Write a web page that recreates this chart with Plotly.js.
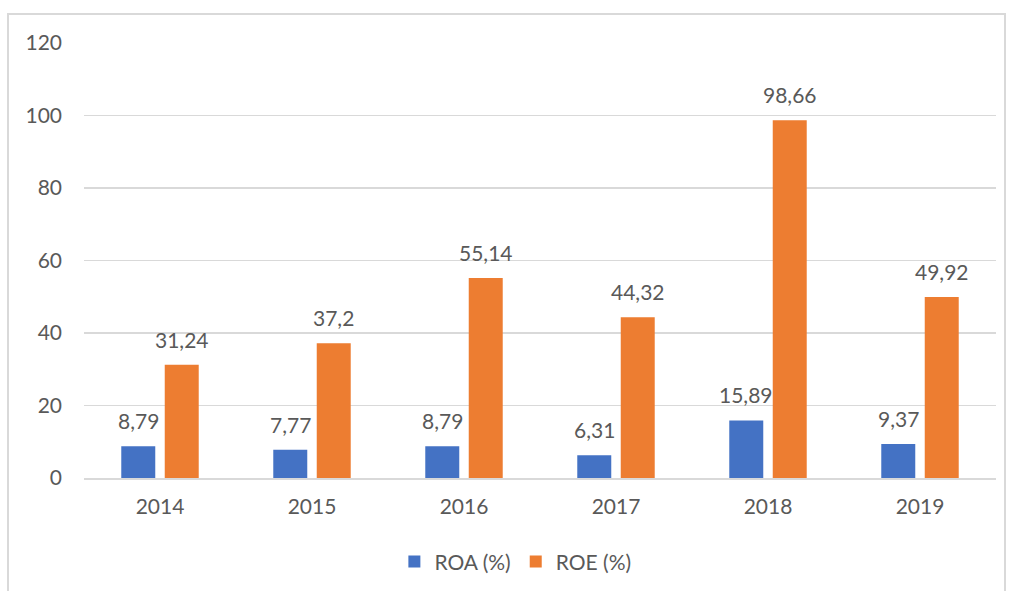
<!DOCTYPE html>
<html><head><meta charset="utf-8">
<script src="https://cdn.plot.ly/plotly-3.0.1.min.js"></script>
<style>
html,body{margin:0;padding:0;background:#fff;width:1012px;height:591px;overflow:hidden;}
#frame{position:absolute;left:7px;top:13px;width:999px;height:600px;border:2px solid #d9d9d9;box-sizing:border-box;}
#chart{position:absolute;left:0;top:0;width:1012px;height:591px;}
</style></head>
<body>
<div id="frame"></div>
<div id="chart"></div>
<script>
const years = ['2014','2015','2016','2017','2018','2019'];
const roa = [8.79, 7.77, 8.79, 6.31, 15.89, 9.37];
const roe = [31.24, 37.2, 55.14, 44.32, 98.66, 49.92];
const yTicks = [0,20,40,60,80,100,120];

const fmt = v => String(v).replace('.', ',');
const font = 'Lato, "Open Sans", sans-serif';
const txt = '#595959';

const traces = [
  {type:'bar', name:'ROA (%)', x:years, y:roa, marker:{color:'#4472C4'}, hoverinfo:'none'},
  {type:'bar', name:'ROE (%)', x:years, y:roe, marker:{color:'#ED7D31'}, hoverinfo:'none'}
];

const ann = [];
years.forEach((yr,i)=>{
  ann.push({x:yr, y:roa[i], text:fmt(roa[i]), showarrow:false, xshift:-21.75, yanchor:'bottom', yshift:11, font:{family:font,size:21,color:txt}});
  ann.push({x:yr, y:roe[i], text:fmt(roe[i]), showarrow:false, xshift:21.75, yanchor:'bottom', yshift:11, font:{family:font,size:21,color:txt}});
});

const layout = {
  width:1012, height:591,
  margin:{l:84, r:16, t:43, b:113, autoexpand:false},
  paper_bgcolor:'rgba(0,0,0,0)', plot_bgcolor:'rgba(0,0,0,0)',
  barmode:'group', bargap:0.428, bargroupgap:0.218,
  font:{family:font, size:21, color:txt},
  xaxis:{showgrid:false, showline:true, linecolor:'#d9d9d9', linewidth:1.5, ticks:'', tickfont:{size:21,color:txt}, ticklabelstandoff:9, automargin:false},
  yaxis:{range:[0,120], tickvals:yTicks, showgrid:true, gridcolor:'#d9d9d9', gridwidth:1.5, zeroline:false, showline:false, ticks:'', tickfont:{size:21,color:txt}, ticklabelstandoff:21, automargin:false},
  showlegend:true,
  legend:{orientation:'h', x:0.473, xanchor:'center', y:-0.193, yanchor:'middle', font:{size:21,color:txt}, itemwidth:30},
  annotations:ann
};
Plotly.newPlot('chart', traces, layout, {displayModeBar:false, staticPlot:true});
</script>
</body></html>
